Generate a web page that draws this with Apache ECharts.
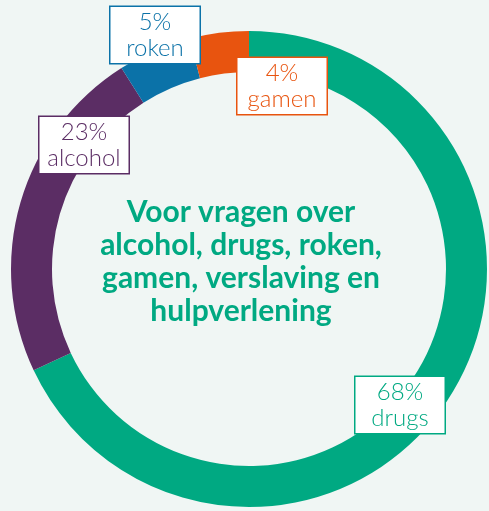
<!DOCTYPE html>
<html>
<head>
<meta charset="utf-8">
<script src="https://cdn.jsdelivr.net/npm/echarts@6/dist/echarts.min.js"></script>
<style>
html,body{margin:0;padding:0;background:#f0f6f4;}
#c{width:489px;height:511px;}
</style>
</head>
<body>
<div id="c"></div>
<script>
// Data
const categories = ['drugs', 'alcohol', 'roken', 'gamen'];
const values = [68, 23, 5, 4];
const centerText = ['Voor vragen over', 'alcohol, drugs, roken,', 'gamen, verslaving en', 'hulpverlening'];

// Styling / layout (kept separate from data)
const colors = ['#00a982', '#5b2d64', '#0b72a8', '#e8540f'];
const labelPos = [[400, 405], [84, 145], [155, 35], [282, 86]];

const chart = echarts.init(document.getElementById('c'));
chart.setOption({
  backgroundColor: '#f0f6f4',
  animation: false,
  graphic: [{
    type: 'text',
    x: 241,
    y: 262,
    style: {
      text: centerText.join('\n'),
      textAlign: 'center',
      textVerticalAlign: 'middle',
      font: 'bold 30px Lato',
      lineHeight: 33,
      fill: '#00a982'
    }
  }],
  series: [{
    type: 'pie',
    center: [249, 269],
    radius: [197, 238],
    startAngle: 90,
    clockwise: true,
    silent: true,
    data: categories.map((c, i) => ({
      name: c,
      value: values[i],
      itemStyle: { color: colors[i] },
      label: {
        color: colors[i],
        borderColor: colors[i]
      }
    })),
    label: {
      show: true,
      position: 'inside',
      formatter: p => p.value + '%\n' + p.name,
      fontFamily: 'Lato',
      fontWeight: 300,
      fontSize: 24,
      lineHeight: 26,
      width: 69,
      overflow: 'none',
      align: 'center',
      backgroundColor: '#ffffff',
      borderWidth: 1.5,
      padding: [2, 10, 2, 10]
    },
    labelLine: { show: false },
    labelLayout: function (params) {
      const p = labelPos[params.dataIndex];
      return { x: p[0], y: p[1], align: 'center', verticalAlign: 'middle' };
    }
  }]
});
</script>
</body>
</html>
